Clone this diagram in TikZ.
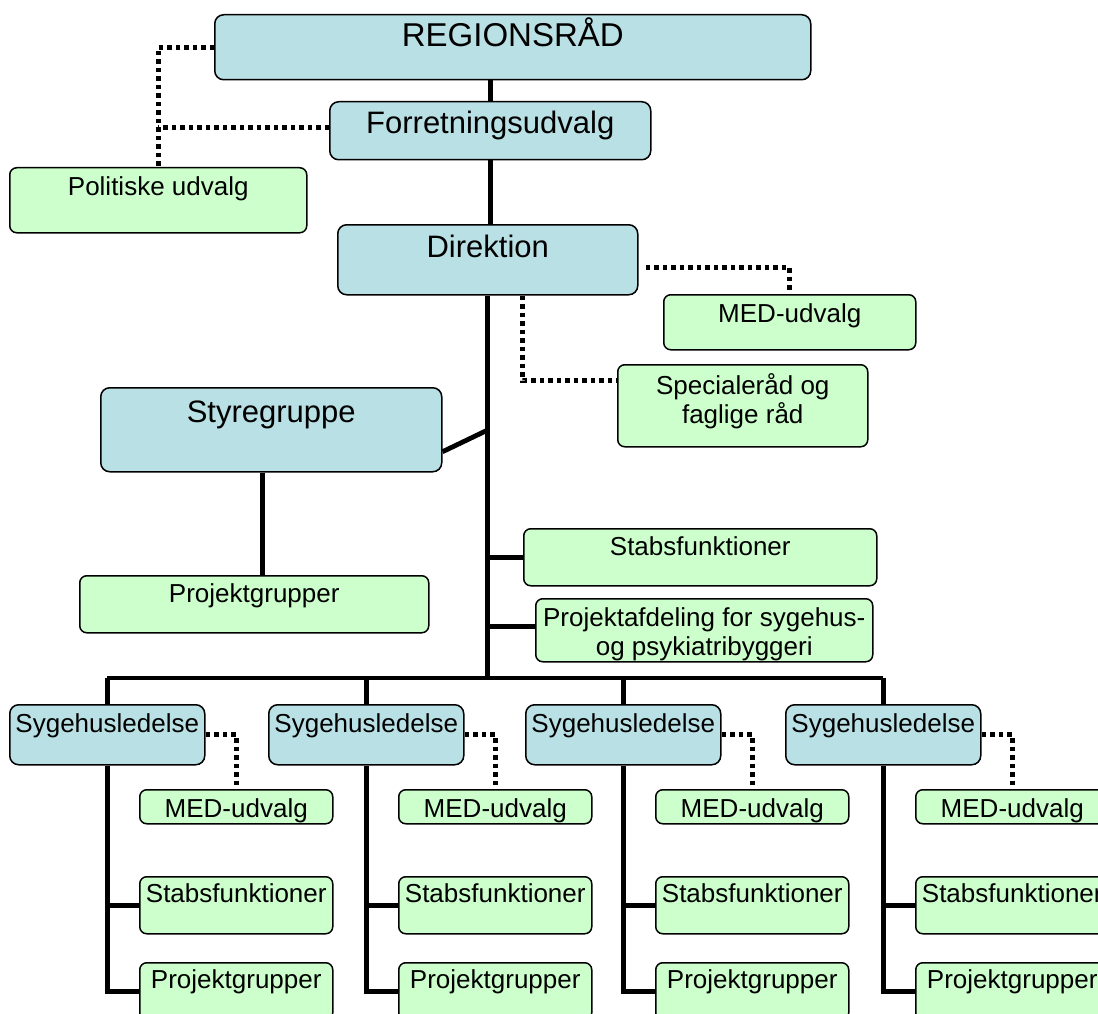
\documentclass[tikz,border=0pt]{standalone}
\usepackage{fontspec}
\setmainfont{Liberation Sans}
\usepackage{xcolor}
\usepackage{tikz}
\usetikzlibrary{positioning, calc}

\definecolor{boxblue}{RGB}{185,224,228}
\definecolor{boxgreen}{RGB}{204,255,204}
\newcommand{\bigfont}{\fontsize{31}{35}\selectfont}
\newcommand{\regfont}{\fontsize{33}{37}\selectfont}
\newcommand{\smallfont}{\fontsize{26}{29}\selectfont}

\begin{document}
\begin{tikzpicture}[
  x = 1pt, y = -1pt,
  bluebox/.style = {draw, fill=boxblue, line width=1.5pt, rounded corners=9pt, anchor=north west, inner sep=0pt},
  greenbox/.style = {draw, fill=boxgreen, line width=1.5pt, rounded corners=7pt, anchor=north west, inner sep=0pt},
  txt/.style n args = {3}{path picture={\node[anchor=base, align=center, inner sep=0pt, font=#1] at ([yshift=-#2]path picture bounding box.north) {#3};}},
  line/.style = {draw, line width=4.8pt},
  dotline/.style = {draw, line width=5pt, dash pattern=on 4.5pt off 4pt}
  ]
 \clip (0,0) rectangle (1098,1014);
 % Political level
 \node[bluebox, minimum width=596pt, minimum height=65pt, txt={\regfont}{32pt}{REGIONSRÅD}] (reg) at (214,14) {};
 \node[bluebox, minimum width=321pt, minimum height=58pt, txt={\bigfont}{32pt}{Forretningsudvalg}] (forr) at (329,101) {};
 \node[greenbox, minimum width=297pt, minimum height=65pt, txt={\smallfont}{28pt}{Politiske udvalg}] (pol) at (9,167) {};
 % Administration
 \node[bluebox, minimum width=300pt, minimum height=70pt, txt={\bigfont}{33pt}{Direktion}] (dir) at (337,224) {};
 \node[greenbox, minimum width=252pt, minimum height=55pt, txt={\smallfont}{28pt}{MED-udvalg}] (medudv) at (663,294) {};
 \node[greenbox, minimum width=250pt, minimum height=82pt, txt={\smallfont}{59pt}{Specialeråd og\\faglige råd}] (spec) at (617,364) {};
 \node[bluebox, minimum width=341pt, minimum height=84pt, txt={\bigfont}{35pt}{Styregruppe}] (styr) at (100,387) {};
 \node[greenbox, minimum width=349pt, minimum height=57pt, txt={\smallfont}{27pt}{Projektgrupper}] (projgr) at (79,575) {};
 \node[greenbox, minimum width=353pt, minimum height=57pt, txt={\smallfont}{27pt}{Stabsfunktioner}] (stab) at (523,528) {};
 \node[greenbox, minimum width=337pt, minimum height=63pt, txt={\smallfont}{57pt}{Projektafdeling for sygehus-\\og psykiatribyggeri}] (projafd) at (535,598) {};
 % Hospitals
 \foreach \i/\x in {1/9, 2/268, 3/525, 4/785} {
  \node[bluebox, minimum width=195pt, minimum height=60pt, txt={\smallfont}{28pt}{Sygehusledelse}] (syg\i) at (\x,704) {};
  \node[greenbox, minimum width=193pt, minimum height=34pt, txt={\smallfont}{28pt}{MED-udvalg}] (med\i) at ({\x+130},789) {};
  \node[greenbox, minimum width=193pt, minimum height=57pt, txt={\smallfont}{26pt}{Stabsfunktioner}] (stabs\i) at ({\x+130},876) {};
  \node[greenbox, minimum width=193pt, minimum height=57pt, txt={\smallfont}{26pt}{Projektgrupper}] (proj\i) at ({\x+130},962) {};
 }
 \coordinate (bus) at (dir.south |- 0,678);
 % Lines
 \draw[line] (forr.north) -- (forr.north |- reg.south);
 \draw[line] (forr.south) -- (forr.south |- dir.north);
 \draw[line] (dir.south) -- (bus);
 \draw[line] ([yshift=-22pt]styr.east) -- (dir.south |- 0,430);
 \draw[line] ([xshift=-9pt]styr.south) -- ([xshift=-9pt]styr.south |- projgr.north);
 \draw[line] (stab.west) -- (stab.west -| bus);
 \draw[line] ([yshift=4pt]projafd.west) -- ([yshift=4pt]projafd.west -| bus);
 \draw[line] (syg1.north |- bus) -- (syg4.north |- bus);
 \foreach \i in {1,...,4} {
  \draw[line] (syg\i.north) -- (syg\i.north |- bus);
  \draw[line] (syg\i.south) |- (proj\i.west);
  \draw[line] (stabs\i.west) -- (stabs\i.west -| syg\i.south);
  \draw[dotline] (syg\i.east) -| (med\i.north);
 }
 % Dotted lines
 \draw[dotline] (reg.west) -| (pol.north);
 \draw[dotline] ([yshift=3pt]forr.west) -- ([yshift=3pt]forr.west -| pol.north);
 \draw[dotline, shorten <=7pt] ([yshift=-8pt]dir.east) -| (medudv.north);
 \draw[dotline] ([xshift=35pt]dir.south) |- ([yshift=25pt]spec.west);
\end{tikzpicture}
\end{document}
